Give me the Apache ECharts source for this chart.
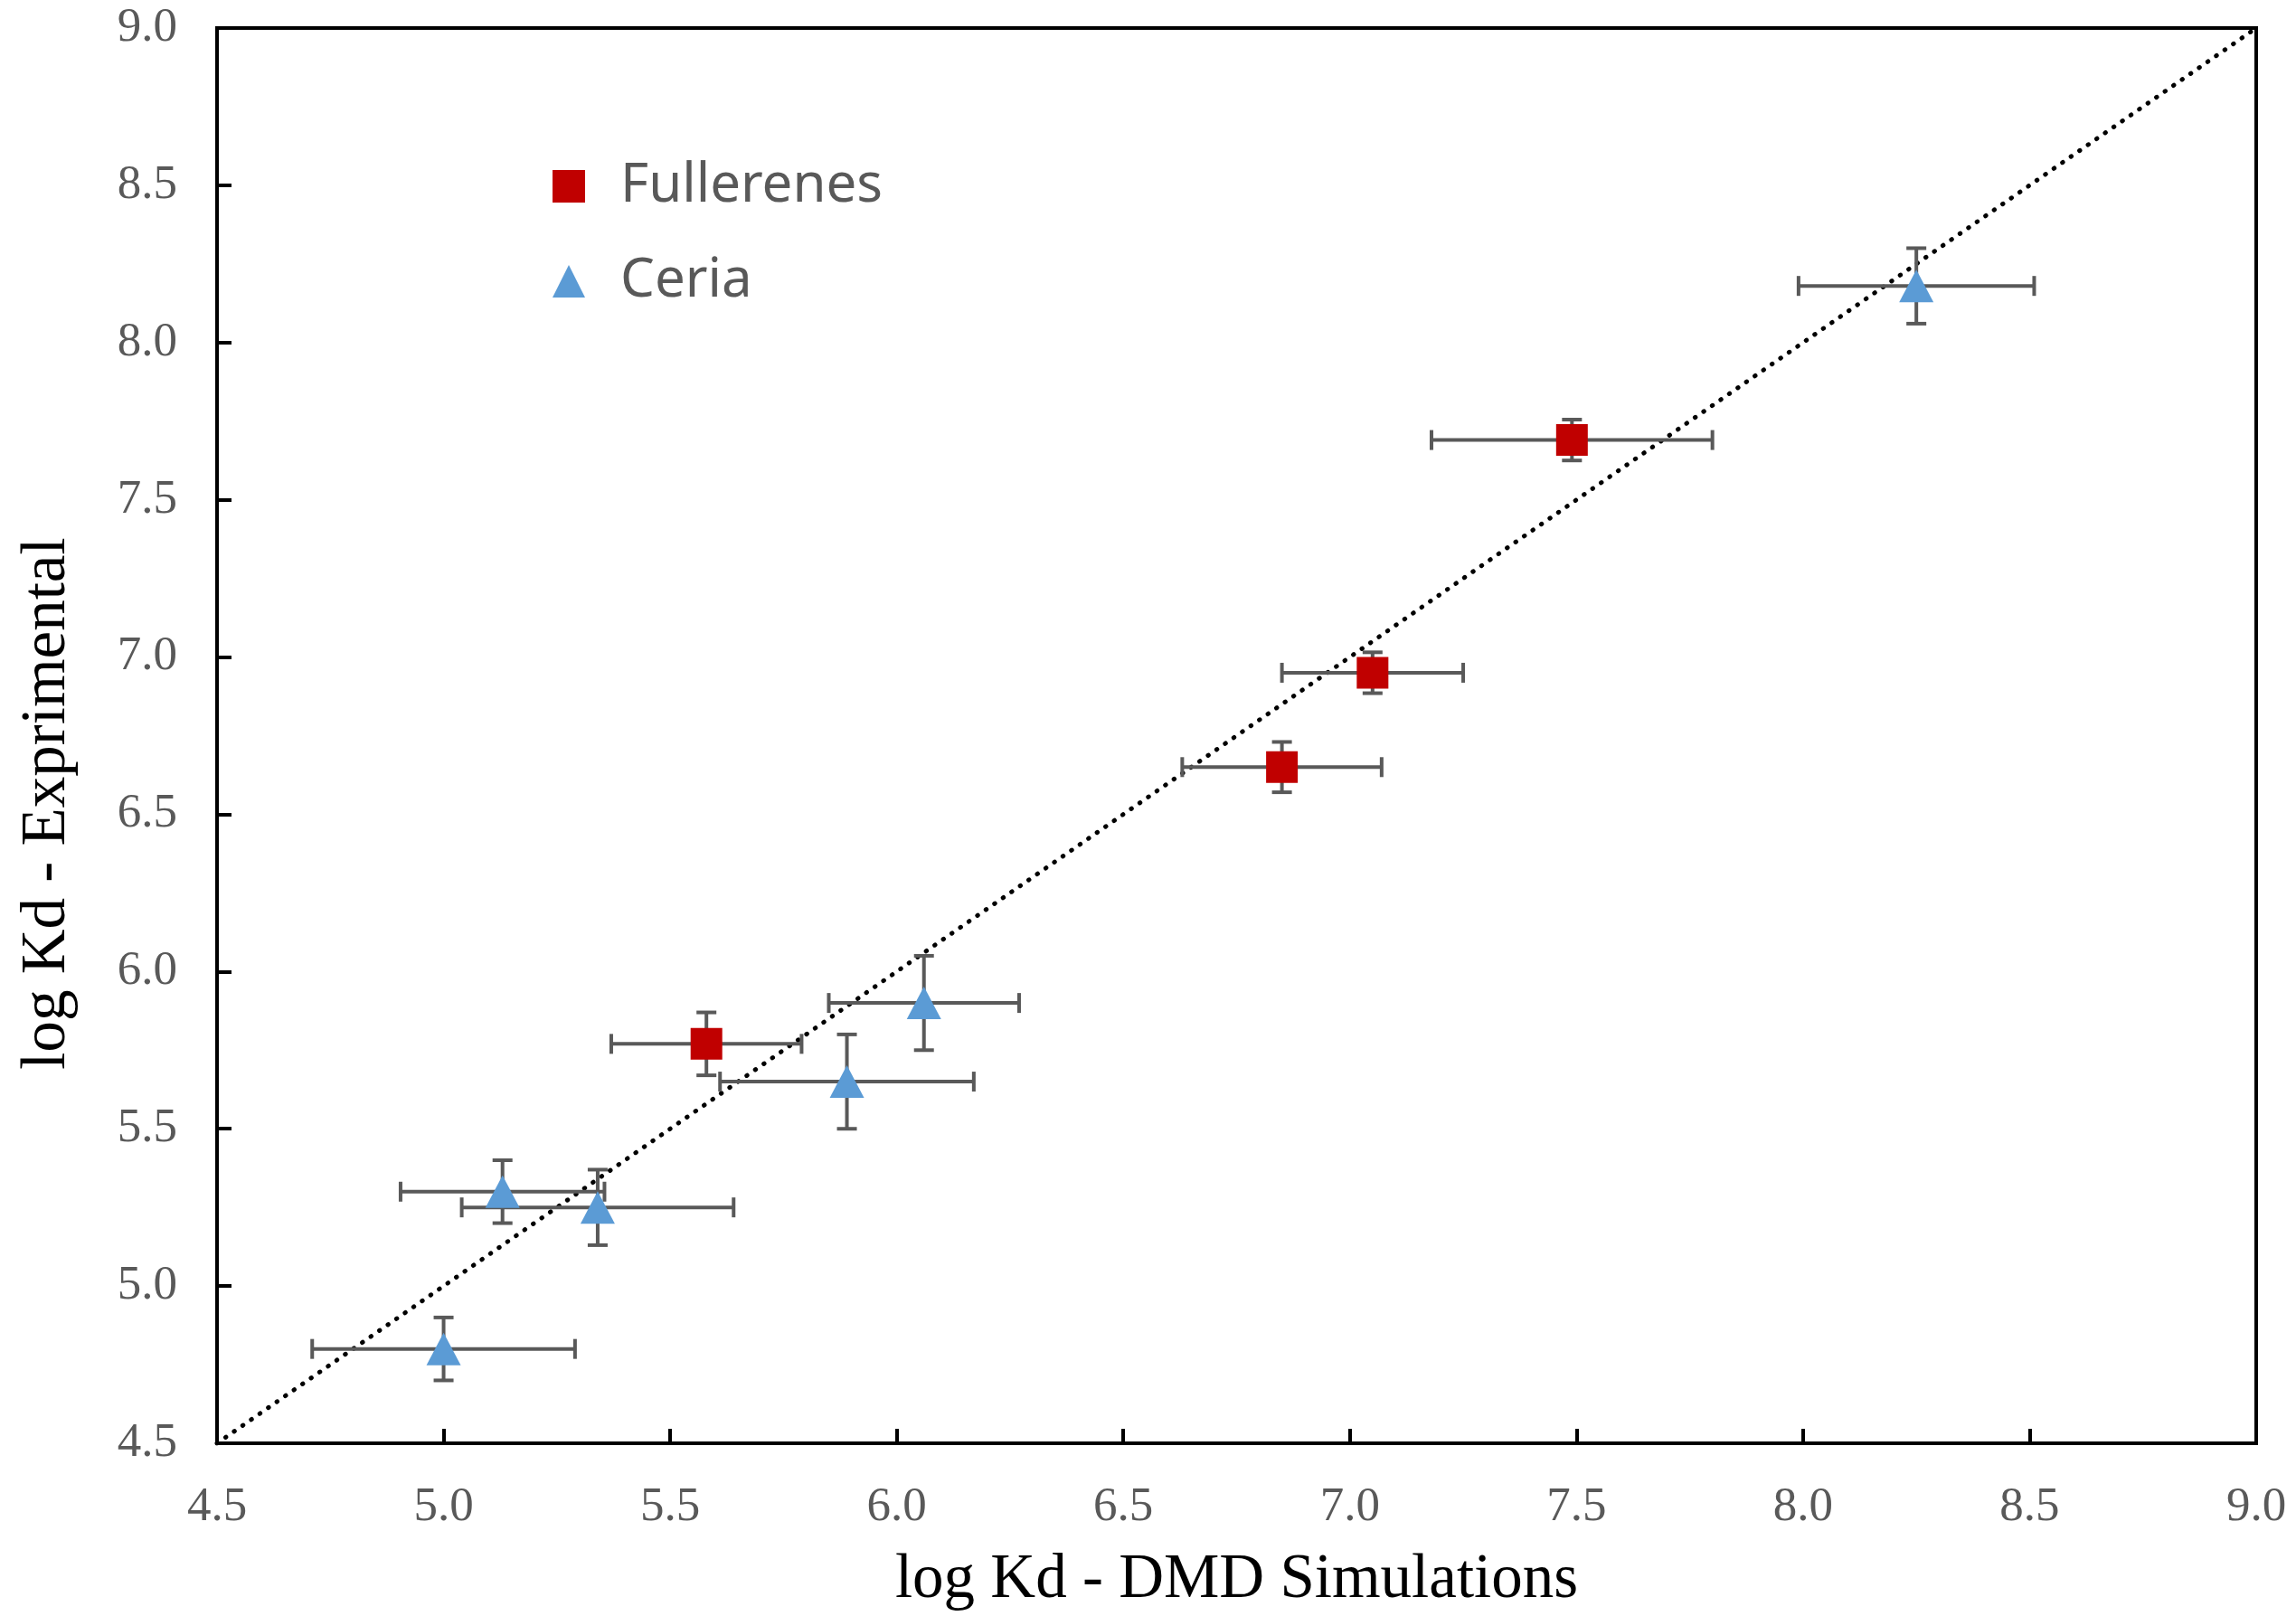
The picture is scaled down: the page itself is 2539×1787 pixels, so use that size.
<!DOCTYPE html>
<html>
<head>
<meta charset="utf-8">
<style>
  html, body { margin: 0; padding: 0; background: #fff; }
  #chart { width: 2539px; height: 1787px; }
</style>
<script src="https://cdn.jsdelivr.net/npm/echarts@6/dist/echarts.min.js"></script>
</head>
<body>
<div id="chart"></div>
<script>
// [x, y, xErr, yErr] - log Kd from DMD simulations vs experiment
var fullerenes = [
  [5.58, 5.77, 0.21, 0.10],
  [6.85, 6.65, 0.22, 0.08],
  [7.05, 6.95, 0.20, 0.065],
  [7.49, 7.69, 0.31, 0.065]
]
var ceria = [
  [5.00, 4.80, 0.29, 0.10],
  [5.13, 5.30, 0.225, 0.10],
  [5.34, 5.25, 0.30, 0.12],
  [5.89, 5.65, 0.28, 0.15],
  [6.06, 5.90, 0.21, 0.15],
  [8.25, 8.18, 0.26, 0.12]
]
var parityLine = [[4.5, 4.5], [9.0, 9.0]]
var axisMin = 4.5
var axisMax = 9.0
var tickStep = 0.5

var serifFont = '"Liberation Serif", "Times New Roman", serif'
var gray = '#595959'

function errorBars(params, api) {
  var x = api.value(0)
  var y = api.value(1)
  var ex = api.value(2)
  var ey = api.value(3)
  var l = api.coord([x - ex, y])
  var r = api.coord([x + ex, y])
  var t = api.coord([x, y + ey])
  var b = api.coord([x, y - ey])
  var cap = 11
  var style = { stroke: gray, lineWidth: 4, fill: null }
  return {
    type: 'group',
    children: [
      { type: 'line', shape: { x1: l[0], y1: l[1], x2: r[0], y2: r[1] }, style: style },
      { type: 'line', shape: { x1: l[0], y1: l[1] - cap, x2: l[0], y2: l[1] + cap }, style: style },
      { type: 'line', shape: { x1: r[0], y1: r[1] - cap, x2: r[0], y2: r[1] + cap }, style: style },
      { type: 'line', shape: { x1: t[0], y1: t[1], x2: b[0], y2: b[1] }, style: style },
      { type: 'line', shape: { x1: t[0] - cap, y1: t[1], x2: t[0] + cap, y2: t[1] }, style: style },
      { type: 'line', shape: { x1: b[0] - cap, y1: b[1], x2: b[0] + cap, y2: b[1] }, style: style }
    ]
  }
}

var chart = echarts.init(document.getElementById('chart'))
chart.setOption({
  animation: false,
  backgroundColor: '#fff',
  grid: {
    left: 240,
    right: 44,
    top: 31,
    bottom: 189,
    show: true,
    borderColor: '#000',
    borderWidth: 4
  },
  legend: {
    orient: 'vertical',
    left: 606,
    top: 171,
    itemWidth: 36,
    itemHeight: 36,
    itemGap: 45,
    data: ['Fullerenes', 'Ceria'],
    textStyle: {
      fontFamily: '"Noto Sans", sans-serif',
      fontSize: 60,
      color: gray,
      padding: [0, 0, 0, 34]
    }
  },
  xAxis: {
    type: 'value',
    min: axisMin,
    max: axisMax,
    interval: tickStep,
    name: 'log Kd - DMD Simulations',
    nameLocation: 'middle',
    nameGap: 117,
    nameTextStyle: { fontFamily: serifFont, fontSize: 69, color: '#000' },
    axisLine: { lineStyle: { color: '#000', width: 4 } },
    axisTick: { inside: true, length: 16, lineStyle: { color: '#000', width: 4 } },
    axisLabel: {
      margin: 45,
      fontFamily: serifFont,
      fontSize: 53,
      color: gray,
      formatter: function (v) { return v.toFixed(1) }
    },
    splitLine: { show: false }
  },
  yAxis: {
    type: 'value',
    min: axisMin,
    max: axisMax,
    interval: tickStep,
    name: 'log Kd - Exprimental',
    nameLocation: 'middle',
    nameGap: 153,
    nameTextStyle: { fontFamily: serifFont, fontSize: 69, color: '#000', padding: [0, 150, 0, 0] },
    axisLine: { lineStyle: { color: '#000', width: 4 } },
    axisTick: { inside: true, length: 16, lineStyle: { color: '#000', width: 4 } },
    axisLabel: {
      margin: 44,
      fontFamily: serifFont,
      fontSize: 53,
      color: gray,
      formatter: function (v) { return v.toFixed(1) }
    },
    splitLine: { show: false }
  },
  series: [
    {
      name: 'parity',
      type: 'line',
      data: parityLine,
      symbol: 'none',
      silent: true,
      lineStyle: { color: '#000', width: 5, type: [0.5, 11], cap: 'round' },
      z: 1
    },
    {
      name: 'fullerenesErr',
      type: 'custom',
      data: fullerenes,
      renderItem: errorBars,
      silent: true,
      z: 2
    },
    {
      name: 'ceriaErr',
      type: 'custom',
      data: ceria,
      renderItem: errorBars,
      silent: true,
      z: 2
    },
    {
      name: 'Fullerenes',
      type: 'scatter',
      data: fullerenes.map(function (d) { return [d[0], d[1]] }),
      symbol: 'rect',
      symbolSize: 35,
      itemStyle: { color: '#C00000', opacity: 1 },
      z: 3
    },
    {
      name: 'Ceria',
      type: 'scatter',
      data: ceria.map(function (d) { return [d[0], d[1]] }),
      symbol: 'triangle',
      symbolSize: [38, 36],
      itemStyle: { color: '#5B9BD5', opacity: 1 },
      z: 3
    }
  ]
})
</script>
</body>
</html>
